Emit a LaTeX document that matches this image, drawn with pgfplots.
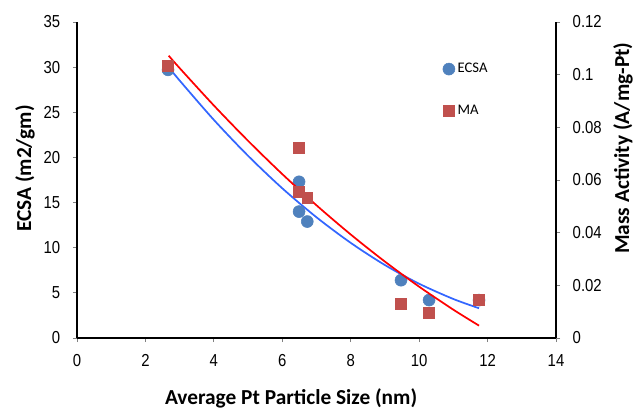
\documentclass[border=0pt]{standalone}
\usepackage{fontspec}
\setmainfont{Liberation Sans}
\newfontfamily\tickfont[FakeStretch=0.86]{Liberation Sans}
\newfontfamily\labfont{Carlito}
\usepackage{pgfplots}
\pgfplotsset{compat=1.18}
\definecolor{ecsablue}{RGB}{79,129,189}
\definecolor{mared}{RGB}{192,80,77}
\definecolor{fitblue}{RGB}{51,102,255}

\pgfplotsset{
  common/.style={
    at={(0,0)}, anchor=south west,
    scale only axis, width=359.25pt, height=237pt,
    xmin=0, xmax=14,
    tick align=outside, major tick length=3pt,
    every tick/.style={gray, line width=0.6pt},
    axis line style={line width=1.3pt, black},
    /pgf/number format/assume math mode=true,
    ticklabel style={font=\tickfont\fontsize{13}{14}\selectfont},
  },
}

\begin{document}
\begin{tikzpicture}
\useasboundingbox (-57.75pt,-54.75pt) rectangle (424.5pt,253.5pt);
\begin{axis}[
  common,
  ymin=0, ymax=35,
  xtick={0,2,...,14}, ytick={0,5,...,35},
  axis x line*=bottom, axis y line*=left,
  xticklabel style={yshift=-6pt},
  yticklabel style={xshift=-6pt},
  xlabel={\labfont\bfseries\fontsize{16}{18}\selectfont Average Pt Particle Size (nm)},
  xlabel style={at={(axis description cs:0.447,-0.19)}, anchor=center},
  ylabel={\labfont\bfseries\fontsize{16}{18}\selectfont ECSA (m2/gm)},
  ylabel style={at={(axis description cs:-0.1086,0.536)}, anchor=center},
]
% ECSA measurements
\addplot[only marks, mark=*, mark size=4.5pt, ecsablue, mark options={draw=ecsablue, fill=ecsablue}] coordinates {
  (2.66,29.7) (6.49,17.3) (6.49,14.0) (6.73,12.9) (9.47,6.4) (10.29,4.2) (11.75,4.2)
};
% ECSA trend line
\addplot[fitblue, line width=1.3pt, smooth] coordinates {
  (2.7,29.9) (3,28.52) (4,24.16) (5,20.18) (6,16.58) (7,13.37) (8,10.54)
  (9,8.08) (10,6.01) (11,4.32) (11.75,3.30)
};
\end{axis}

\begin{axis}[
  common,
  ymin=0, ymax=0.12,
  ytick={0,0.02,0.04,0.06,0.08,0.1,0.12},
  scaled y ticks=false,
  yticklabel style={/pgf/number format/fixed, /pgf/number format/precision=2, xshift=6pt},
  axis x line=none, axis y line*=right,
  ylabel={\labfont\bfseries\fontsize{16}{18}\selectfont Mass Activity (A/mg-Pt)},
  ylabel style={at={(axis description cs:1.14,0.601)}, anchor=center, rotate=0},
  legend style={at={(axis description cs:0.755,0.887)}, anchor=north west, draw=none, fill=none,
    font=\labfont\fontsize{11}{13}\selectfont, row sep=19pt},
  legend cell align=left,
]
\addlegendimage{only marks, mark=*, mark size=4.5pt, ecsablue, mark options={draw=ecsablue, fill=ecsablue}}
\addlegendentry{ECSA}
% MA measurements
\addplot[only marks, mark=square*, mark size=4.1pt, mared, mark options={draw=mared, fill=mared}] coordinates {
  (2.66,0.1035) (6.49,0.0722) (6.49,0.0555) (6.73,0.0532) (9.47,0.0129) (10.29,0.0095) (11.75,0.0144)
};
\addlegendentry{MA}
% MA trend line
\addplot[red, line width=1.3pt, smooth, forget plot] coordinates {
  (2.68,0.1072) (3,0.10249) (4,0.08830) (5,0.07488) (6,0.06224) (7,0.05039)
  (8,0.03931) (9,0.02901) (10,0.01949) (11,0.01075) (11.75,0.00470)
};
\end{axis}
\end{tikzpicture}
\end{document}
